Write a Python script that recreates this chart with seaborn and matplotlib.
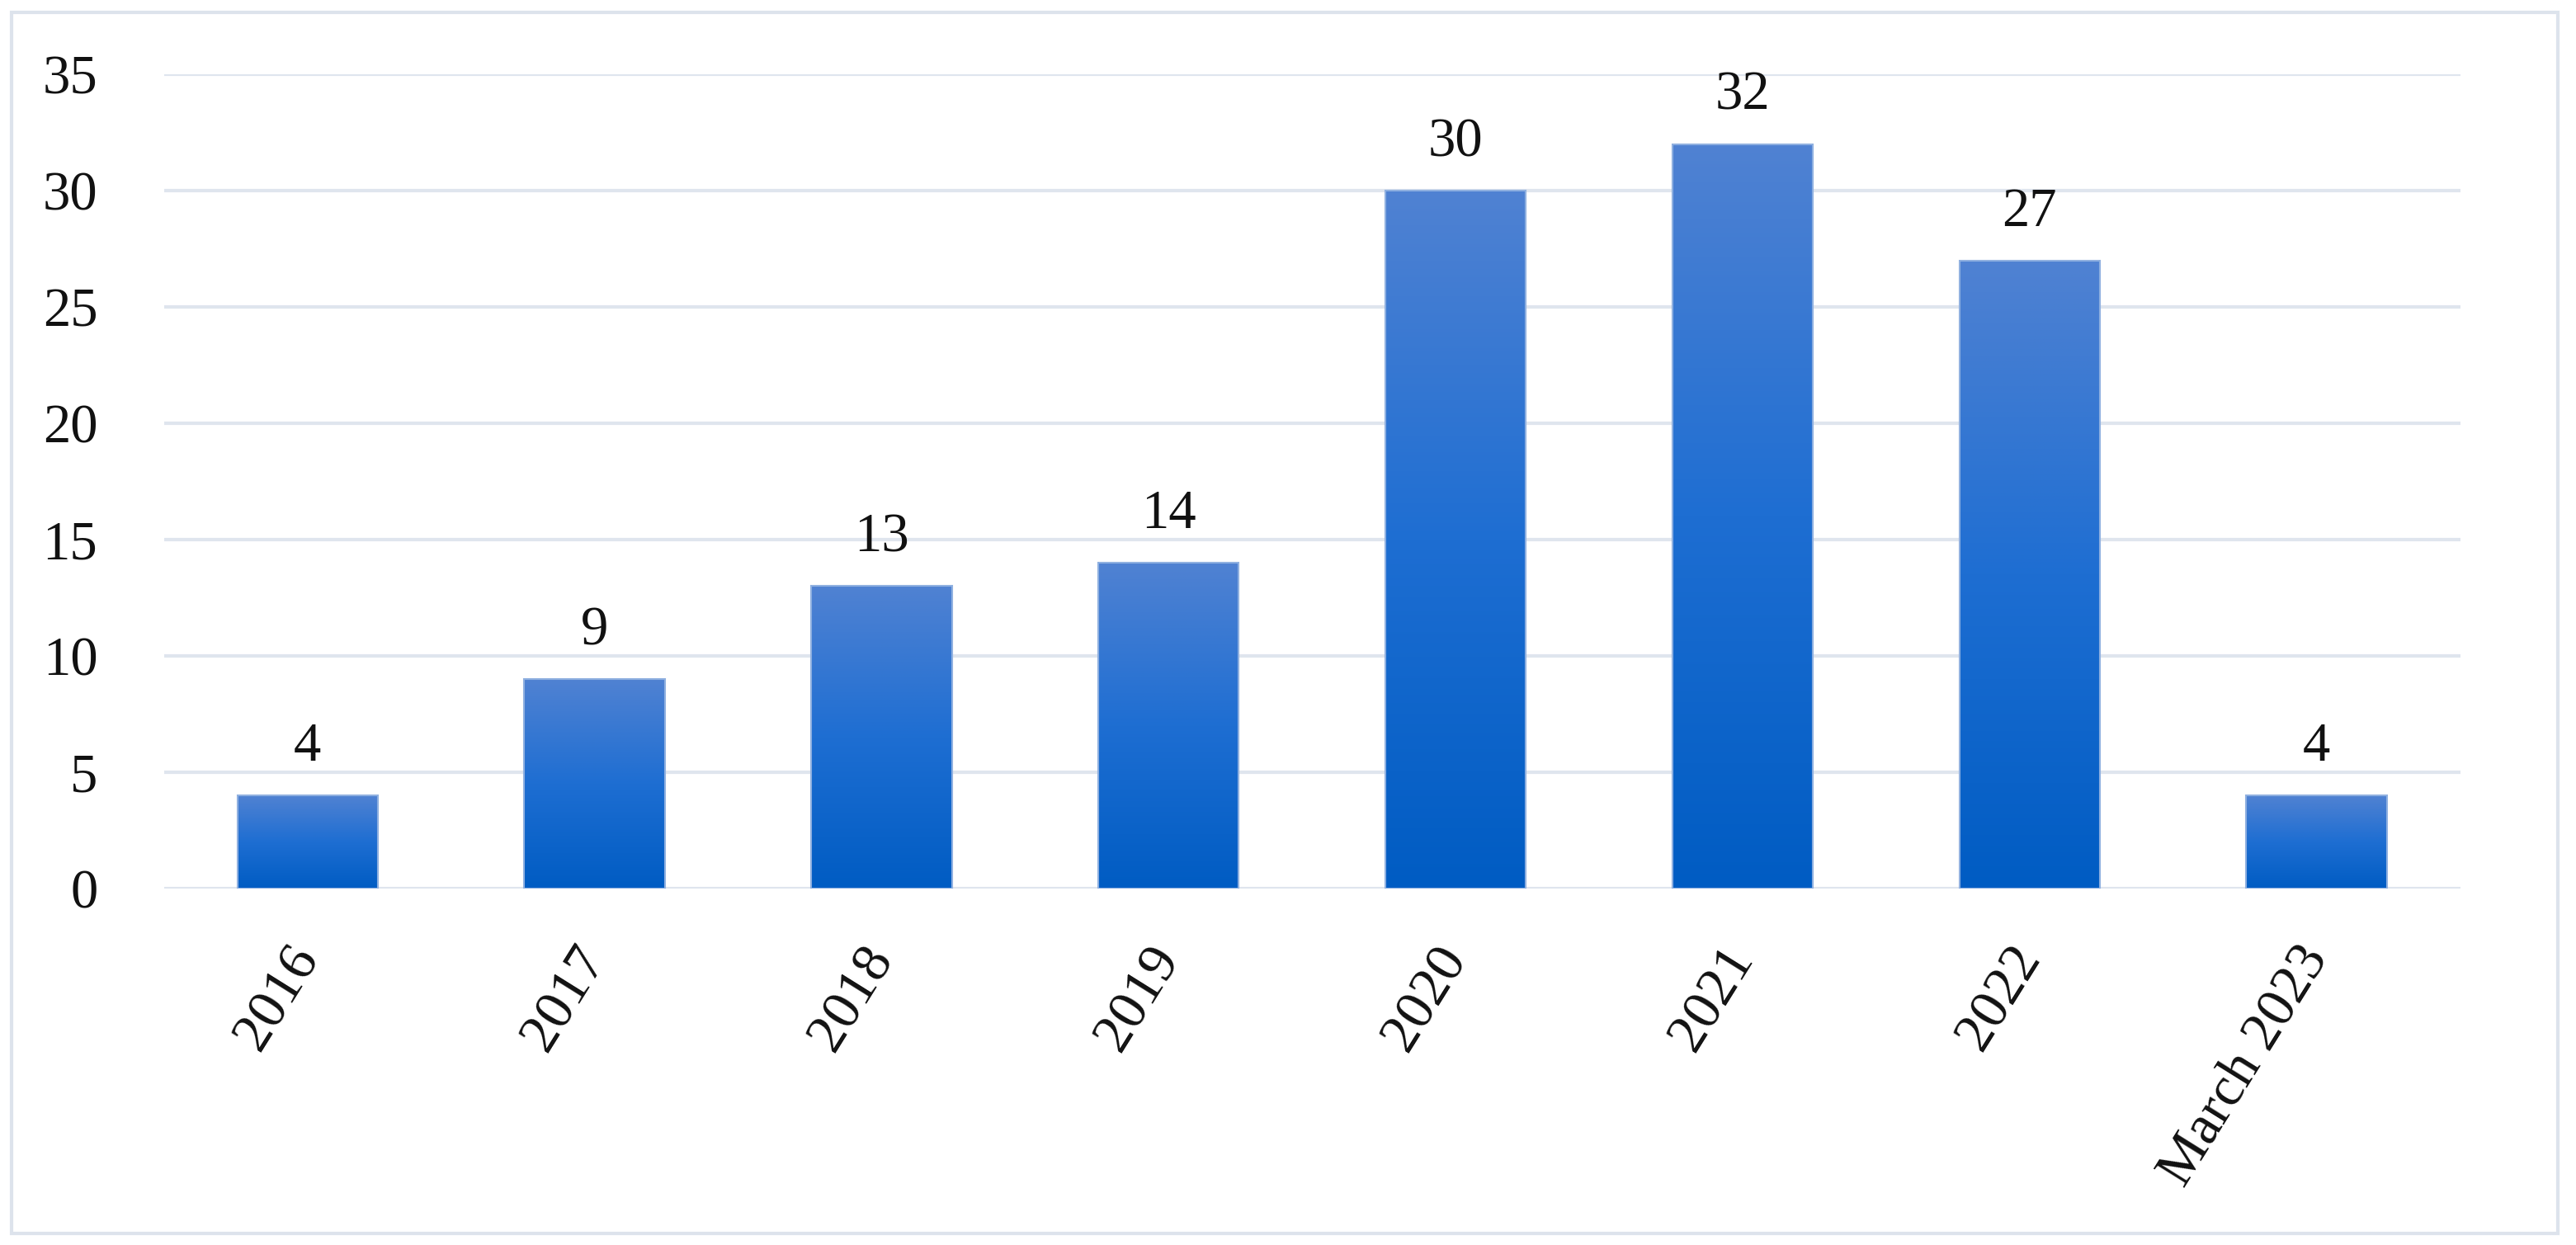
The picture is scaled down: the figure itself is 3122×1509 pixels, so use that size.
import numpy as np
import pandas as pd
import matplotlib
matplotlib.use("Agg")
import matplotlib.pyplot as plt
from matplotlib.colors import LinearSegmentedColormap
from matplotlib.patches import Rectangle
import seaborn as sns

categories = ["2016", "2017", "2018", "2019", "2020", "2021", "2022", "March 2023"]
values = [4, 9, 13, 14, 30, 32, 27, 4]
yticks = [0, 5, 10, 15, 20, 25, 30, 35]

df = pd.DataFrame({"year": categories, "count": values})

sns.set_theme(style="white")
plt.rcParams["font.family"] = ["Liberation Serif", "DejaVu Serif"]

fig = plt.figure(figsize=(31.22, 15.09), dpi=100)
ax = fig.add_axes([0.0637, 0.2863, 0.8913, 0.6541])

sns.barplot(data=df, x="year", y="count", color="#1e6ed2", width=0.49,
            saturation=1, ax=ax, zorder=3)

cmap = LinearSegmentedColormap.from_list("g", ["#005cc3", "#1e6ed2", "#5082d2"])
grad = np.linspace(0, 1, 256).reshape(-1, 1)
for p in ax.patches:
    x0, y0 = p.get_x(), p.get_y()
    w, h = p.get_width(), p.get_height()
    p.set_facecolor("none")
    p.set_edgecolor("#8fb0e0")
    p.set_linewidth(1.5)
    im = ax.imshow(grad, cmap=cmap, aspect="auto", origin="lower",
                   extent=[x0, x0 + w, y0, y0 + h], zorder=2.5)
    im.set_clip_path(p)

ax.set_xlim(-0.5, len(categories) - 0.5)
ax.set_ylim(0, 35)
ax.set_yticks(yticks)
ax.set_yticklabels([str(t) for t in yticks])
ax.yaxis.grid(True, color="#dfe5ee", linewidth=3, zorder=0)
ax.set_axisbelow(True)
for s in ax.spines.values():
    s.set_visible(False)
ax.tick_params(axis="y", length=0, labelsize=48, colors="#111111", pad=58)
ax.tick_params(axis="x", length=0, labelsize=49, colors="#111111", pad=54)
plt.setp(ax.get_xticklabels(), rotation=58, ha="right", va="center",
         rotation_mode="anchor")
ax.set_xlabel("")
ax.set_ylabel("")

for i, v in enumerate(values):
    ax.annotate(str(v), (i, v), xytext=(0, 20), textcoords="offset points",
                ha="center", va="bottom", fontsize=48, color="#111111")

fig.patches.append(Rectangle((0.0045, 0.009), 0.9885, 0.981, transform=fig.transFigure,
                             fill=False, edgecolor="#dde3ec", linewidth=3))

fig.savefig("out.png", dpi=100, facecolor="white")
